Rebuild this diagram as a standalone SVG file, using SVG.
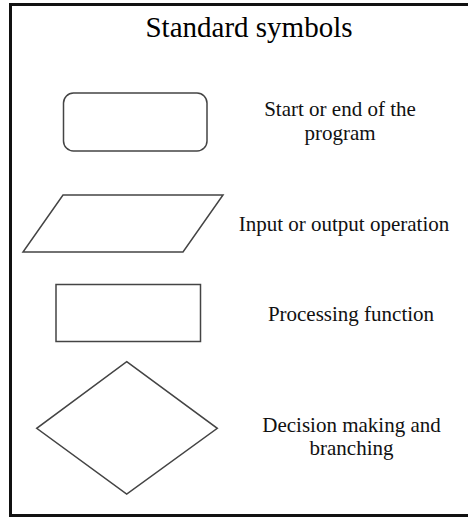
<svg xmlns="http://www.w3.org/2000/svg" width="468" height="517" viewBox="0 0 468 517">
  <style>
    .frame { fill: none; stroke: #111; stroke-width: 3; }
    .shape { fill: #fff; stroke: #444; stroke-width: 1.5; }
    .title { font-family: "Liberation Serif", "Times New Roman", serif; font-size: 29px; fill: #000; text-anchor: middle; }
    .label { font-family: "Liberation Serif", "Times New Roman", serif; font-size: 21px; fill: #111; text-anchor: middle; }
  </style>
  <rect width="468" height="517" fill="#fff"/>
  <!-- outer frame, right side runs past the canvas edge -->
  <rect class="frame" x="10.5" y="4.5" width="470" height="511"/>
  <text class="title" x="249" y="36.5">Standard symbols</text>

  <g id="terminator">
    <rect class="shape" x="63.5" y="93" width="143.5" height="58" rx="10" ry="10"/>
    <text class="label" x="340" y="116">Start or end of the</text>
    <text class="label" x="340" y="140">program</text>
  </g>

  <g id="input-output">
    <polygon class="shape" points="63,195 223,195 183,252 23,252"/>
    <text class="label" x="344" y="230.5">Input or output operation</text>
  </g>

  <g id="process">
    <rect class="shape" x="56" y="284.5" width="144.5" height="57"/>
    <text class="label" x="351" y="320.5">Processing function</text>
  </g>

  <g id="decision">
    <polygon class="shape" points="126.7,361.7 217.3,428.3 126.7,494 36.7,428.3"/>
    <text class="label" x="351.5" y="431.5">Decision making and</text>
    <text class="label" x="351.5" y="455">branching</text>
  </g>

  <g id="connectors"/>
</svg>
